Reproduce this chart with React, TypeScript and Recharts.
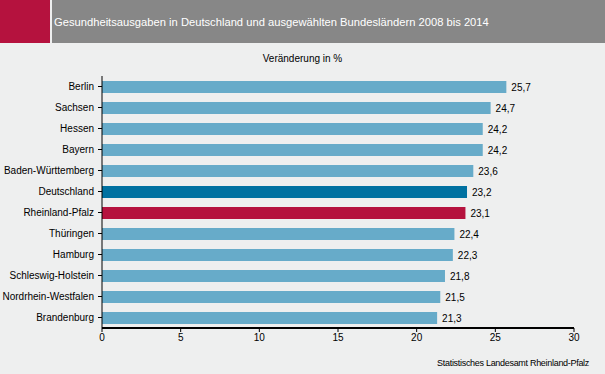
import React from 'react';
import { BarChart, Bar, XAxis, YAxis, Cell, LabelList } from 'recharts';

const regions = [
  'Berlin',
  'Sachsen',
  'Hessen',
  'Bayern',
  'Baden-Württemberg',
  'Deutschland',
  'Rheinland-Pfalz',
  'Thüringen',
  'Hamburg',
  'Schleswig-Holstein',
  'Nordrhein-Westfalen',
  'Brandenburg',
];

const changePct = [25.7, 24.7, 24.2, 24.2, 23.6, 23.2, 23.1, 22.4, 22.3, 21.8, 21.5, 21.3];

const xTicks = [0, 5, 10, 15, 20, 25, 30];

const FONT = '"Liberation Sans", Arial, Helvetica, sans-serif';

const barColor = (name: string) => {
  if (name === 'Deutschland') return '#0071a1';
  if (name === 'Rheinland-Pfalz') return '#b5123e';
  return '#67abc9';
};

export default function App() {
  // combine arrays for recharts
  const chartData = regions.map((name, i) => ({ name, value: changePct[i] }));

  const fmt = (v: any) => Number(v).toFixed(1).replace('.', ',');

  return (
    <div
      style={{
        position: 'absolute',
        left: 0,
        top: 0,
        width: 605,
        height: 374,
        background: '#eeefef',
        fontFamily: FONT,
        overflow: 'hidden',
      }}
    >
      {/* header band */}
      <div style={{ position: 'absolute', left: 0, top: 0, width: 50, height: 43, background: '#b5123e' }} />
      <div style={{ position: 'absolute', left: 52, top: 0, width: 553, height: 43, background: '#878787' }} />
      <div
        style={{
          position: 'absolute',
          left: 54,
          top: 15,
          fontSize: 11.2,
          color: '#ffffff',
          whiteSpace: 'nowrap',
          lineHeight: '14px',
        }}
      >
        Gesundheitsausgaben in Deutschland und ausgewählten Bundesländern 2008 bis 2014
      </div>
      <div
        style={{
          position: 'absolute',
          left: 0,
          width: 605,
          top: 52,
          textAlign: 'center',
          fontSize: 10,
          color: '#000',
          lineHeight: '14px',
        }}
      >
        Veränderung in %
      </div>

      <div style={{ position: 'absolute', left: 0, top: 0 }}>
        <BarChart
          layout="vertical"
          width={605}
          height={374}
          data={chartData}
          margin={{ top: 76, right: 31, bottom: 26, left: 0 }}
          barSize={12}
        >
          <XAxis
            type="number"
            domain={[0, 30]}
            ticks={xTicks}
            interval={0}
            height={20}
            tickSize={4}
            tickMargin={2}
            axisLine={{ stroke: '#000', strokeWidth: 2 }}
            tickLine={{ stroke: '#000' }}
            tick={{ fill: '#000', fontSize: 10, fontFamily: FONT }}
          />
          <YAxis
            type="category"
            dataKey="name"
            width={102}
            interval={0}
            tickSize={4}
            tickMargin={4}
            axisLine={{ stroke: '#000' }}
            tickLine={{ stroke: '#000' }}
            tick={{ fill: '#000', fontSize: 10, fontFamily: FONT }}
          />
          <Bar dataKey="value" isAnimationActive={false}>
            {chartData.map((entry, index) => (
              <Cell key={`cell-${index}`} fill={barColor(entry.name)} />
            ))}
            <LabelList
              dataKey="value"
              position="right"
              offset={5}
              formatter={fmt}
              style={{ fill: '#000', fontSize: 10, fontFamily: FONT }}
            />
          </Bar>
        </BarChart>
      </div>

      <div
        style={{
          position: 'absolute',
          right: 16,
          top: 357,
          fontSize: 9,
          letterSpacing: -0.3,
          color: '#000',
          whiteSpace: 'nowrap',
          lineHeight: '12px',
        }}
      >
        Statistisches Landesamt Rheinland-Pfalz
      </div>
    </div>
  );
}
